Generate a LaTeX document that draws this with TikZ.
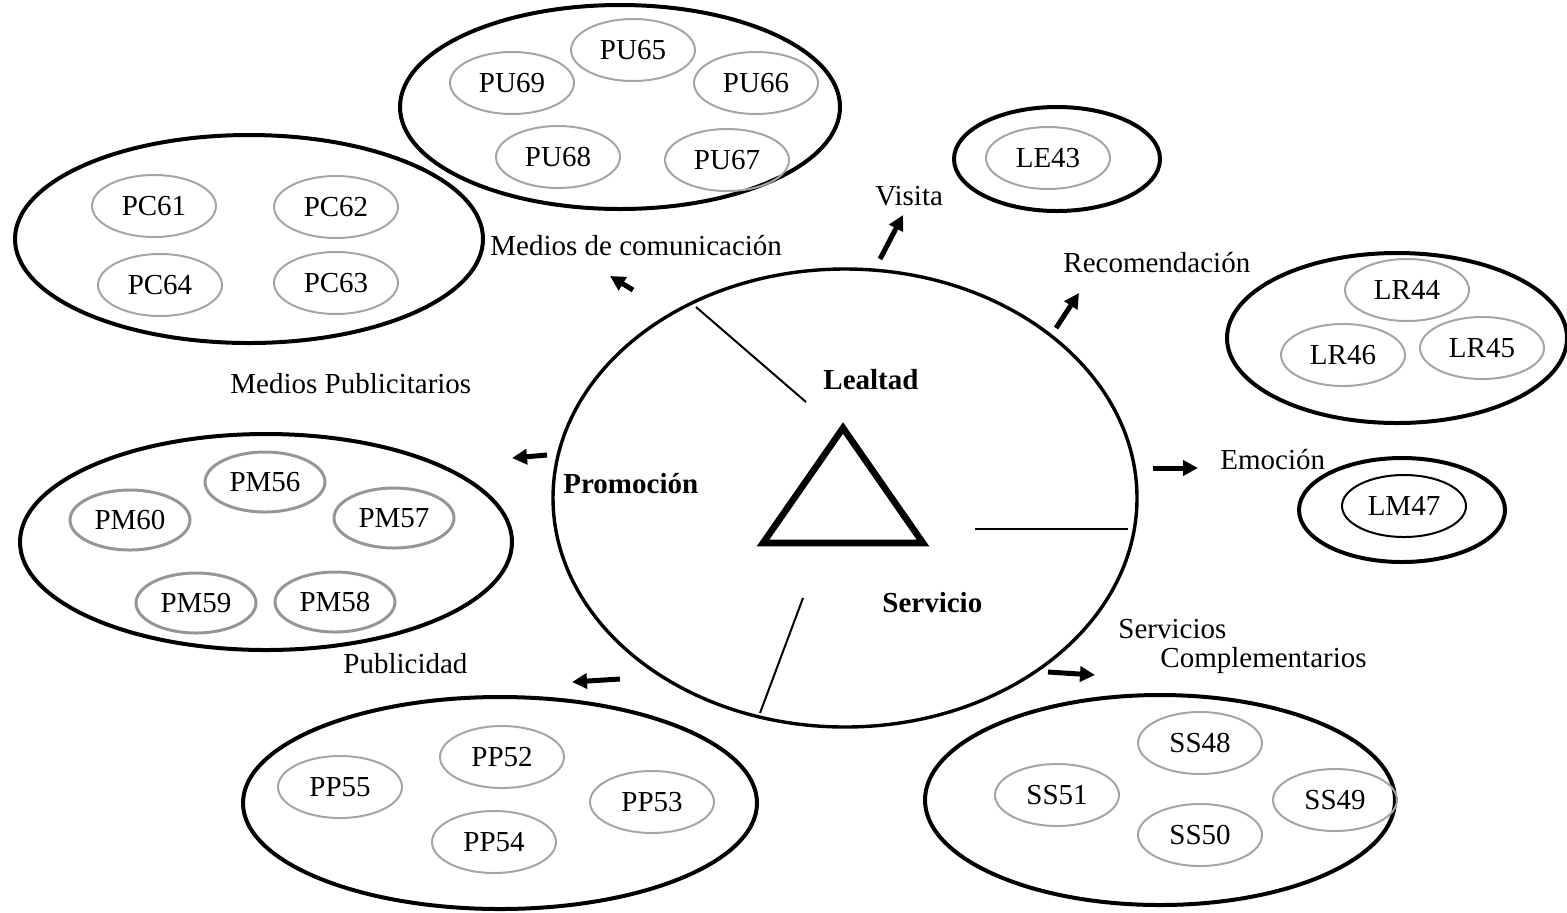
\documentclass[tikz,border=0pt]{standalone}
\usepackage{fontspec}
\setmainfont{Liberation Serif}
\usetikzlibrary{shapes.geometric,arrows.meta}
\definecolor{itemgray}{RGB}{165,165,165}
\definecolor{itemgraydark}{RGB}{150,150,150}
\begin{document}
\begin{tikzpicture}[x=0.5pt,y=-0.5pt,
  every node/.style={font=\fontsize{14.5}{17}\selectfont, inner sep=0pt},
  group/.style={ellipse, draw=black, line width=2pt},
  item/.style={ellipse, draw=itemgray, line width=1pt, minimum width=62pt, minimum height=31pt},
  itemthick/.style={item, draw=itemgraydark, line width=1.5pt, minimum width=60pt, minimum height=30pt},
  lbl/.style={anchor=base west},
  hdr/.style={anchor=base west, font=\fontsize{14.5}{17}\selectfont\bfseries},
  pointer/.style={line width=2.5pt, -{Triangle[length=7.5pt,width=7.5pt]}},
  divider/.style={line width=1pt}]
\useasboundingbox (0,0) rectangle (1567,912);

% central circle with the triangle
\node[ellipse, draw=black, line width=1.7pt, minimum width=292pt, minimum height=229pt] (core) at (845,498) {};
\draw[line width=3.3pt, line join=miter] (843,428) -- (763,543) -- (923,543) -- cycle;

% dividers inside the circle
\coordinate (d1a) at (696,307); \coordinate (d1b) at (806,402);
\coordinate (d2a) at (975,529); \coordinate (d2b) at (1128,529);
\coordinate (d3a) at (803,598); \coordinate (d3b) at (760,713);
\draw[divider] (d1a) -- (d1b);
\draw[divider] (d2a) -- (d2b);
\draw[divider] (d3a) -- (d3b);

\node[hdr] (lealtad) at (823,389) {Lealtad};
\node[hdr] (promocion) at (563,493) {Promoción};
\node[hdr] (servicio) at (882,612) {Servicio};

% Medios de comunicación
\node[group, minimum width=220pt, minimum height=102pt] (pu) at (620,107) {};
\node[item] (pu65) at (633,50) {PU65};
\node[item] (pu69) at (512,83) {PU69};
\node[item] (pu66) at (756,83) {PU66};
\node[item] (pu68) at (558,157) {PU68};
\node[item] (pu67) at (727,160) {PU67};

\node[group, minimum width=234pt, minimum height=104pt] (pc) at (249,239) {};
\node[item] (pc61) at (154,206) {PC61};
\node[item] (pc62) at (336,207) {PC62};
\node[item] (pc64) at (160,285) {PC64};
\node[item] (pc63) at (336,283) {PC63};

\node[lbl] (tmc) at (490,255) {Medios de comunicación};
\node[lbl] (tmp) at (230,393) {Medios Publicitarios};

% Visita
\node[group, minimum width=103pt, minimum height=52pt] (le) at (1057,159) {};
\node[item] (le43) at (1048,158) {LE43};
\node[lbl] (tvis) at (875,205) {Visita};

% Recomendación
\node[group, minimum width=170pt, minimum height=85pt] (lr) at (1397,338) {};
\node[item] (lr44) at (1407,290) {LR44};
\node[item] (lr46) at (1343,355) {LR46};
\node[item] (lr45) at (1482,348) {LR45};
\node[lbl] (trec) at (1063,272) {Recomendación};

% Emoción
\node[group, minimum width=103pt, minimum height=52pt] (lm) at (1402,510) {};
\node[ellipse, draw=black, line width=1pt, minimum width=62pt, minimum height=31pt] (lm47) at (1404,506) {LM47};
\node[lbl] (temo) at (1220,469) {Emoción};

% Servicios complementarios
\node[group, minimum width=235pt, minimum height=105pt] (ss) at (1160,800) {};
\node[item] (ss48) at (1200,743) {SS48};
\node[item] (ss51) at (1057,795) {SS51};
\node[item] (ss50) at (1200,835) {SS50};
\node[item] (ss49) at (1335,800) {SS49};
\node[lbl] (tser) at (1118,638) {Servicios};
\node[lbl] (tcom) at (1160,667) {Complementarios};

% Publicidad
\node[group, minimum width=257pt, minimum height=106pt] (pp) at (500,803) {};
\node[item] (pp52) at (502,757) {PP52};
\node[item] (pp55) at (340,787) {PP55};
\node[item] (pp53) at (652,802) {PP53};
\node[item] (pp54) at (494,842) {PP54};
\node[lbl] (tpub) at (343,673) {Publicidad};

% Medios publicitarios
\node[group, minimum width=246pt, minimum height=108pt] (pm) at (266,542) {};
\node[itemthick] (pm56) at (265,482) {PM56};
\node[itemthick] (pm60) at (130,520) {PM60};
\node[itemthick] (pm57) at (394,518) {PM57};
\node[itemthick] (pm59) at (196,603) {PM59};
\node[itemthick] (pm58) at (335,602) {PM58};

% pointers leaving the circle
\coordinate (a1s) at (633,290); \coordinate (a1e) at (610,276);
\coordinate (a2s) at (880,259); \coordinate (a2e) at (903,215);
\coordinate (a3s) at (1056,328); \coordinate (a3e) at (1079,293);
\coordinate (a4s) at (1153,468); \coordinate (a4e) at (1198,468);
\coordinate (a5s) at (1048,672); \coordinate (a5e) at (1095,675);
\coordinate (a6s) at (620,679); \coordinate (a6e) at (572,682);
\coordinate (a7s) at (547,455); \coordinate (a7e) at (512,458);
\foreach \i in {1,...,7} \draw[pointer] (a\i s) -- (a\i e);
\end{tikzpicture}
\end{document}
